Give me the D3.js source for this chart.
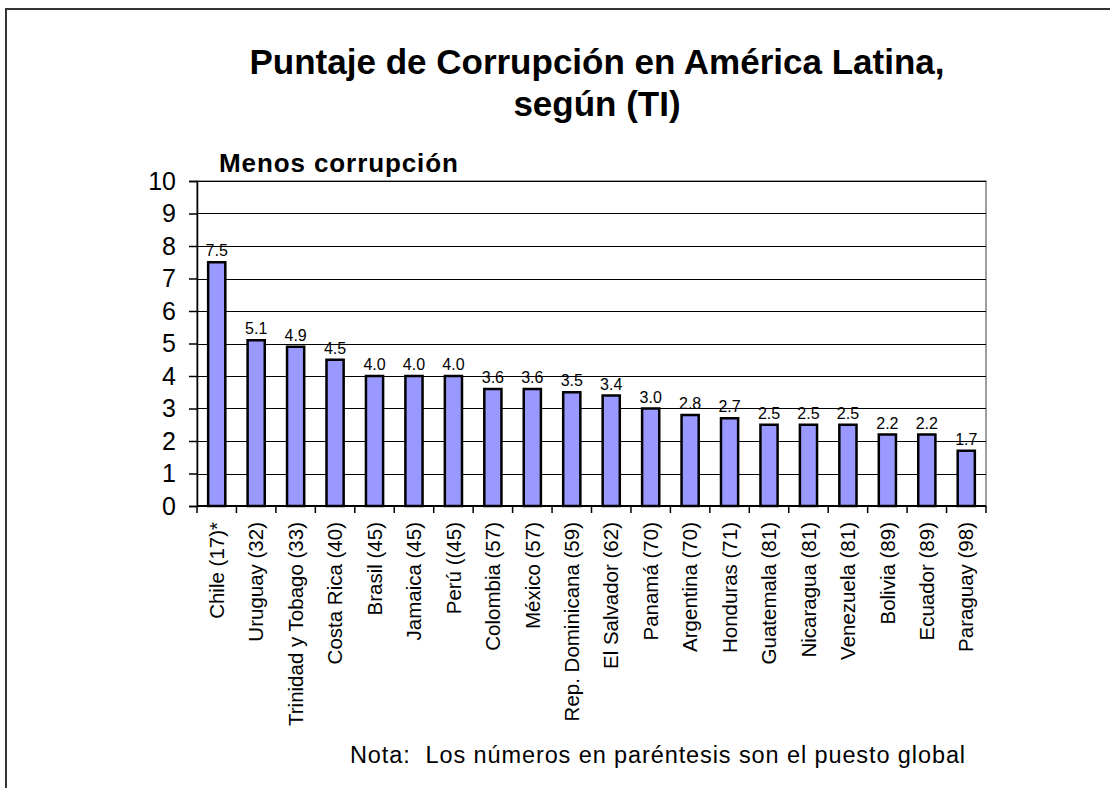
<!DOCTYPE html>
<html>
<head>
<meta charset="utf-8">
<script src="https://cdn.jsdelivr.net/npm/d3@7"></script>
<style>
  body { margin: 0; background: #fff; }
  svg { display: block; font-family: "Liberation Sans", Arial, sans-serif; }
</style>
</head>
<body>
<script>
// data
var countries = ["Chile (17)*", "Uruguay (32)", "Trinidad y Tobago (33)", "Costa Rica (40)",
  "Brasil (45)", "Jamaica (45)", "Perú ((45)", "Colombia (57)", "México (57)",
  "Rep. Dominicana (59)", "El Salvador (62)", "Panamá (70)", "Argentina (70)",
  "Honduras (71)", "Guatemala (81)", "Nicaragua (81)", "Venezuela (81)",
  "Bolivia (89)", "Ecuador (89)", "Paraguay (98)"];
var scores = [7.5, 5.1, 4.9, 4.5, 4.0, 4.0, 4.0, 3.6, 3.6, 3.5, 3.4, 3.0, 2.8, 2.7, 2.5, 2.5, 2.5, 2.2, 2.2, 1.7];
var yTicks = [0, 1, 2, 3, 4, 5, 6, 7, 8, 9, 10];
var titleLines = ["Puntaje de Corrupción en América Latina,", "según (TI)"];

var W = 1110, H = 788;
var margin = { top: 181, right: 124, bottom: 282, left: 197 },
  width = W - margin.left - margin.right,
  height = H - margin.top - margin.bottom;

var svg = d3.select("body").append("svg")
  .attr("width", W)
  .attr("height", H);

// outer frame (runs off the right and bottom edges)
svg.append("rect")
  .attr("x", 6).attr("y", 9)
  .attr("width", 1300).attr("height", 1000)
  .attr("fill", "none")
  .attr("stroke", "#333")
  .attr("stroke-width", 2);

// title
svg.append("text")
  .attr("x", 597).attr("y", 74)
  .attr("text-anchor", "middle")
  .style("font-size", "35px").style("font-weight", "bold")
  .selectAll("tspan").data(titleLines).enter().append("tspan")
  .attr("x", 597)
  .attr("dy", function (d, i) { return i === 0 ? 0 : 42; })
  .text(function (d) { return d; });

svg.append("text")
  .attr("x", 219).attr("y", 172)
  .style("font-size", "26px").style("font-weight", "bold")
  .style("letter-spacing", "0.9px")
  .text("Menos corrupción");

var g = svg.append("g").attr("transform", "translate(" + margin.left + "," + margin.top + ")");

var x = d3.scaleBand().domain(countries).range([0, width]).padding(0);
var y = d3.scaleLinear().domain([0, 10]).range([height, 0]);

// plot area border
g.append("rect")
  .attr("width", width).attr("height", height)
  .attr("fill", "none")
  .attr("stroke", "#808080")
  .attr("stroke-width", 1.5);

// gridlines
g.selectAll(".grid").data(yTicks.slice(1)).enter().append("line")
  .attr("x1", 0).attr("x2", width)
  .attr("y1", function (d) { return Math.round(y(d)) + 0.5; })
  .attr("y2", function (d) { return Math.round(y(d)) + 0.5; })
  .attr("stroke", "#000")
  .attr("stroke-width", 1);

// y axis
var yAxis = g.append("g")
  .call(d3.axisLeft(y).tickValues(yTicks).tickSize(8).tickPadding(13).tickFormat(d3.format("d")));
yAxis.selectAll("text").style("font-size", "25px").attr("fill", "#000")
  .style("font-family", "'Liberation Sans', Arial, sans-serif");
yAxis.selectAll("line, path").attr("stroke", "#000").attr("stroke-width", 1.5);

// bars
var barW = x.bandwidth() / 2.3;
g.selectAll(".bar").data(scores).enter().append("rect")
  .attr("x", function (d, i) { return x(countries[i]) + (x.bandwidth() - barW) / 2; })
  .attr("y", function (d) { return y(d); })
  .attr("width", barW)
  .attr("height", function (d) { return height - y(d); })
  .attr("fill", "#9999ff")
  .attr("stroke", "#000")
  .attr("stroke-width", 2.5);

// value labels
g.selectAll(".val").data(scores).enter().append("text")
  .attr("x", function (d, i) { return x(countries[i]) + x.bandwidth() / 2; })
  .attr("y", function (d) { return y(d) - 6; })
  .attr("text-anchor", "middle")
  .style("font-size", "16px")
  .text(function (d) { return d3.format(".1f")(d); });

// x axis line and ticks at band edges
g.append("line")
  .attr("x1", 0).attr("x2", width)
  .attr("y1", height).attr("y2", height)
  .attr("stroke", "#000").attr("stroke-width", 2);
var edges = countries.map(function (c) { return x(c); }).concat([width]);
g.selectAll(".xtick").data(edges).enter().append("line")
  .attr("x1", function (d) { return d; }).attr("x2", function (d) { return d; })
  .attr("y1", height).attr("y2", height + 7)
  .attr("stroke", "#000").attr("stroke-width", 1.5);

// category labels
g.selectAll(".cat").data(countries).enter().append("text")
  .attr("transform", function (d) {
    return "translate(" + (x(d) + x.bandwidth() / 2) + "," + (height + 16) + ") rotate(-90)";
  })
  .attr("text-anchor", "end")
  .attr("dy", "0.35em")
  .style("font-size", "20.5px")
  .text(function (d) { return d; });

// note
svg.append("text")
  .attr("x", 350).attr("y", 763)
  .style("font-size", "23.5px")
  .style("letter-spacing", "0.9px")
  .style("white-space", "pre")
  .text("Nota:  Los números en paréntesis son el puesto global");
</script>
</body>
</html>
